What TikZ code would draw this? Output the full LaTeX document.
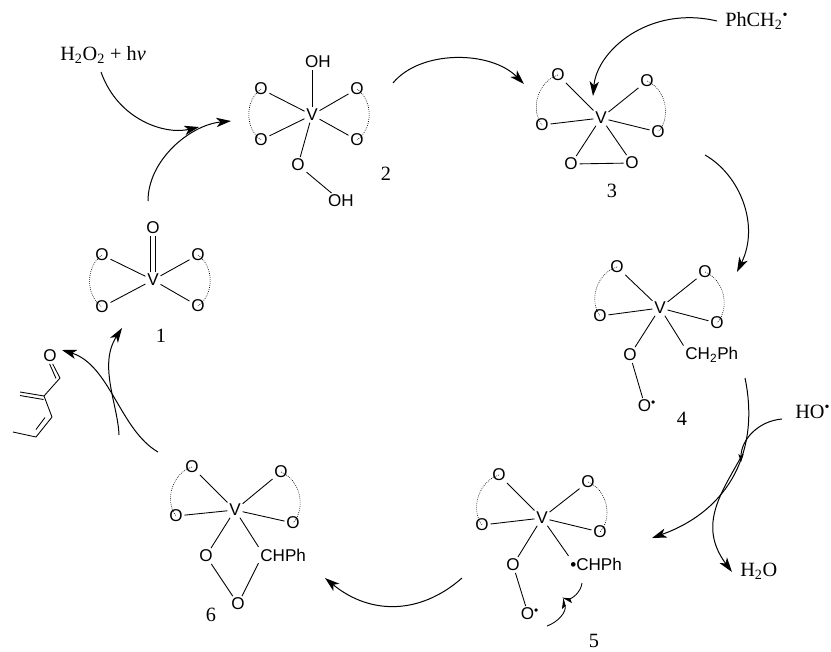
\documentclass[tikz,border=0pt]{standalone}
\usepackage{fontspec}
\setmainfont{Liberation Serif}
\setsansfont{Liberation Sans}
\usetikzlibrary{arrows.meta}
\tikzset{
  atom/.style={font=\sffamily\fontsize{12.8}{14}\selectfont,inner sep=1.2pt},
  lab/.style={font=\fontsize{15.2}{17}\selectfont,inner sep=0pt},
  bond/.style={line width=0.65pt,black},
  ring/.style={line width=0.45pt,black,dash pattern=on 0.6pt off 0.9pt},
  rx/.style={line width=0.75pt,black,-{Stealth[length=11pt,width=7pt,inset=3pt]}},
  rxs/.style={line width=0.65pt,black,-{Stealth[length=7pt,width=6pt,inset=1.5pt,harpoon]}},
}
% prefix, V position, four O positions (upper left, upper right, lower left, lower right)
\newcommand{\vcore}[6]{%
  \node[atom] (#1v) at (#2) {V};
  \node[atom] (#1a) at (#3) {O};
  \node[atom] (#1b) at (#4) {O};
  \node[atom] (#1c) at (#5) {O};
  \node[atom] (#1d) at (#6) {O};
  \draw[bond] (#1v) -- (#1a);
  \draw[bond] (#1v) -- (#1b);
  \draw[bond] (#1v) -- (#1c);
  \draw[bond] (#1v) -- (#1d);
  \draw[ring] (#1a.center) to[bend right=55] (#1c.center);
  \draw[ring] (#1b.center) to[bend left=55] (#1d.center);
}
\begin{document}
\begin{tikzpicture}[x=0.75pt,y=-0.75pt]
\useasboundingbox (0,0) rectangle (831,651);

% complex 1
\vcore{p}{153,280}{102,255}{198,255}{102,307}{198,306}
\node[atom] (pt) at (153,228) {O};
\draw[bond] ([xshift=-1.9pt]pv.north) -- ([xshift=-1.9pt]pt.south);
\draw[bond] ([xshift=1.9pt]pv.north) -- ([xshift=1.9pt]pt.south);
\node[lab] (n1) at (161,336) {1};

% complex 2
\vcore{q}{312,115}{261,89}{357,89}{261,140}{357,140}
\node[atom] (qt) at (318,62) {OH};
\node[atom] (qo) at (298,165) {O};
\node[atom] (qh) at (341,201) {OH};
\draw[bond] (qv) -- (qv |- qt.south);
\draw[bond] (qv) -- (qo);
\draw[bond] (qo) -- (qh);
\node[lab] (n2) at (386,174) {2};

% complex 3
\vcore{r}{601,118}{558,75}{647,81}{542,125}{658,132}
\node[atom] (re) at (571,164) {O};
\node[atom] (rf) at (632,163) {O};
\draw[bond] (rv) -- (re);
\draw[bond] (rv) -- (rf);
\draw[bond] (re) -- (rf);
\node[lab] (n3) at (612,191) {3};

% complex 4
\vcore{s}{660,308}{617,267}{705,272}{600,316}{717,323}
\node[atom] (se) at (630,355) {O};
\node[atom,anchor=west] (sf) at (683.5,355) {CH\textsubscript{2}Ph};
\node[atom,anchor=west] (sg) at (636,406) {O\textsuperscript{•}};
\draw[bond] (sv) -- (se);
\draw[bond] (sv) -- (sf.north west);
\draw[bond] (se) -- ([xshift=5pt]sg.north west);
\node[lab] (n4) at (682,419) {4};

% complex 5
\vcore{t}{542,518}{499,475}{588,482}{482,525}{600,532}
\node[atom] (te) at (513,565) {O};
\node[atom,anchor=west] (tf) at (568.5,564) {•CHPh};
\node[atom,anchor=west] (tg) at (519,614) {O\textsuperscript{•}};
\draw[bond] (tv) -- (te);
\draw[bond] (tv) -- (tf.north west);
\draw[bond] (te) -- ([xshift=5pt]tg.north west);
\node[lab] (n5) at (594,641) {5};

% complex 6
\vcore{u}{235,510}{192,467}{281,472}{176,516}{293,523}
\node[atom] (ue) at (206,556) {O};
\node[atom,anchor=west] (uf) at (258.5,555) {CHPh};
\node[atom] (ug) at (238,604) {O};
\draw[bond] (uv) -- (ue);
\draw[bond] (uv) -- (uf.north west);
\draw[bond] (ue) -- (ug);
\draw[bond] (uf.south west) -- (ug);
\node[lab] (n6) at (211,615) {6};

% aldehyde
\node[atom] (ao) at (50,356) {O};
\coordinate (a1) at (60,378);
\coordinate (a2) at (44,396);
\coordinate (a3) at (20,392);
\coordinate (a3b) at (20,395.5);
\coordinate (a2b) at (43.5,399.5);
\coordinate (a4) at (52,417);
\coordinate (a5) at (36,437);
\coordinate (a6) at (13,432);
\coordinate (a4b) at (45,417.5);
\coordinate (a5b) at (36,429.5);
\draw[bond] ([xshift=2pt]ao.south) -- (a1) -- (a2) -- (a3);
\draw[bond] ([xshift=-0.3pt]ao.south) -- ([xshift=-3pt,yshift=-0.3pt]a1);
\draw[bond] (a2b) -- (a3b);
\draw[bond] (a2) -- (a4) -- (a5) -- (a6);
\draw[bond] (a4b) -- (a5b);

% free texts
\node[lab,anchor=west] (tA) at (60,55) {H\textsubscript{2}O\textsubscript{2} + h\textit{v}};
\node[lab,anchor=west] (tB) at (725,21) {PhCH\textsubscript{2}\textsuperscript{•}};
\node[lab,anchor=west] (tC) at (795,412) {HO\textsuperscript{•}};
\node[lab,anchor=west] (tD) at (740,571) {H\textsubscript{2}O};

% arrow end points
\coordinate (A1) at (101,72);   \coordinate (A2) at (199,127);
\coordinate (B1) at (148,201);  \coordinate (B2) at (231,121);
\coordinate (C1) at (393,83);   \coordinate (C2) at (524,84);
\coordinate (D1) at (717,21);   \coordinate (D2) at (593,96);
\coordinate (E1) at (705,155);  \coordinate (E2) at (737,272);
\coordinate (F1) at (745,378);  \coordinate (F2) at (652,538);
\coordinate (G1) at (782,419);  \coordinate (G2) at (741,462);
\coordinate (H1) at (741,457);  \coordinate (H2) at (732,572);
\coordinate (I1) at (462,578);  \coordinate (I2) at (325,578);
\coordinate (J1) at (158,452);  \coordinate (J2) at (62,350);
\coordinate (K1) at (119,435);  \coordinate (K2) at (122,328);
\coordinate (L1) at (582,583);  \coordinate (L2) at (562,598);
\coordinate (M1) at (547,626);  \coordinate (M2) at (563,598);

\draw[rx] (A1) .. controls (118,120) and (165,135) .. (A2);
\draw[rx] (B1) .. controls (148,160) and (190,125) .. (B2);
\draw[rx] (C1) .. controls (420,50) and (490,50) .. (C2);
\draw[rx] (D1) .. controls (650,5) and (597,50) .. (D2);
\draw[rx] (E1) .. controls (740,175) and (760,225) .. (E2);
\draw[rx] (F1) .. controls (760,450) and (730,510) .. (F2);
\draw[rx,-{Stealth[length=6pt,width=4pt,inset=1.5pt]}] (G1) .. controls (758,421) and (741,440) .. (G2);
\draw[rx] (H1) .. controls (722,492) and (697,525) .. (H2);
\draw[rx] (I1) .. controls (420,615) and (370,615) .. (I2);
\draw[rx] (J1) .. controls (120,430) and (110,365) .. (J2);
\draw[rx] (K1) .. controls (118,405) and (98,365) .. (K2);
\draw[rxs] (L1) .. controls (581,592) and (572,599) .. (L2);
\draw[rxs] (M1) .. controls (558,622) and (567,612) .. (M2);
\end{tikzpicture}
\end{document}
